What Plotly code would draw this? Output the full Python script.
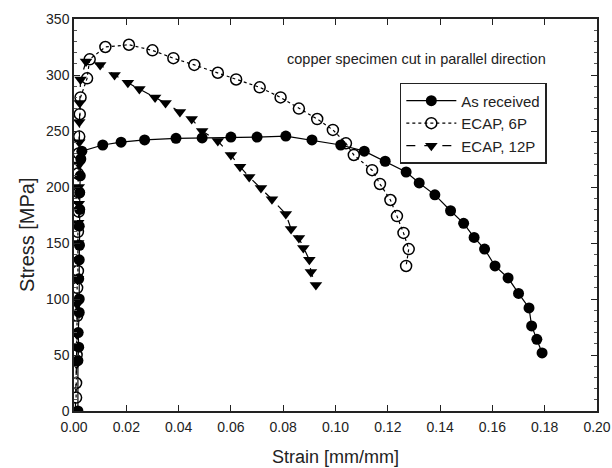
import plotly.graph_objects as go

# As received (filled circles, solid line)
ar_strain = [0.0015, 0.0015, 0.0018, 0.0016, 0.0020, 0.0020, 0.0018, 0.0020, 0.0021, 0.0020, 0.0022, 0.0022, 0.0024, 0.0026,
             0.003, 0.011, 0.018, 0.027, 0.039, 0.049, 0.060, 0.070, 0.081, 0.091, 0.102, 0.111, 0.119, 0.127,
             0.132, 0.138, 0.144, 0.149, 0.153, 0.157, 0.161, 0.166, 0.170, 0.174, 0.175, 0.177, 0.179]
ar_stress = [0, 45, 57, 70, 88, 100, 118, 135, 148, 165, 180, 195, 210, 225,
             232, 237.5, 240, 242, 243.5, 243.8, 244.6, 244.6, 245.5, 242, 237.5, 232, 223, 213.4,
             203.6, 193, 178.8, 167.6, 155, 144.6, 129.5, 118.8, 105, 92, 76, 64, 51.8]

# ECAP, 6P (open circles, dotted line)
e6_strain = [0.0008, 0.0008, 0.001, 0.0012, 0.0012, 0.0015, 0.0015, 0.0018, 0.0018, 0.0015, 0.0018, 0.002, 0.0022, 0.0025, 0.005,
             0.006, 0.012, 0.021, 0.030, 0.038, 0.046, 0.055, 0.062, 0.071, 0.079, 0.086, 0.093, 0.099, 0.104,
             0.107, 0.114, 0.117, 0.121, 0.1235, 0.126, 0.128, 0.127]
e6_stress = [12, 25, 50, 85, 110, 125, 160, 178, 195, 212, 230, 245, 265, 280, 297,
             314, 325, 327, 322, 315, 309, 302, 296, 289, 280, 270, 260.7, 251, 239,
             228.6, 215, 202.7, 188.4, 174, 159, 144.6, 129.5]

# ECAP, 12P (filled down-triangles, dashed line)
e12_strain = [0.0005, 0.001, 0.0012, 0.0012, 0.0015, 0.0015, 0.0016, 0.0016, 0.0018, 0.0018, 0.002, 0.002, 0.002, 0.0022, 0.0025,
              0.0046, 0.010, 0.0155, 0.0206, 0.025, 0.031, 0.035, 0.0405, 0.045, 0.049, 0.055, 0.060, 0.0635,
              0.067, 0.0715, 0.0757, 0.081, 0.083, 0.086, 0.0877, 0.090, 0.0906, 0.0925]
e12_stress = [0, 42, 68, 95, 118, 135, 150, 168, 185, 200, 220, 240, 258, 275, 296,
              312, 309, 300, 293, 287.5, 280, 275, 267, 260.7, 250, 241, 228.6, 218,
              209, 199, 189, 176, 162.5, 154.5, 145.5, 135, 124, 112.5]

x_ticks = [0.00, 0.02, 0.04, 0.06, 0.08, 0.10, 0.12, 0.14, 0.16, 0.18, 0.20]
y_ticks = [0, 50, 100, 150, 200, 250, 300, 350]

FONT = "Liberation Sans, Arial, sans-serif"
INK = "#222"

fig = go.Figure()
fig.add_trace(go.Scatter(x=ar_strain, y=ar_stress, mode="lines+markers", name="As received",
                         line=dict(color="black", width=1.2, dash="solid"),
                         marker=dict(symbol="circle", size=11, color="black")))
fig.add_trace(go.Scatter(x=e6_strain, y=e6_stress, mode="lines+markers", name="ECAP, 6P",
                         line=dict(color="black", width=1.2, dash="dot"),
                         marker=dict(symbol="circle-open", size=11, color="black", line=dict(width=1.5))))
fig.add_trace(go.Scatter(x=e12_strain, y=e12_stress, mode="lines+markers", name="ECAP, 12P",
                         line=dict(color="black", width=1.2, dash="dash"),
                         marker=dict(symbol="triangle-down", size=11, color="black")))

fig.add_annotation(x=0.655, y=0.898, xref="paper", yref="paper",
                   text="copper specimen cut in parallel direction", showarrow=False,
                   font=dict(family=FONT, size=14.5, color=INK), xanchor="center", yanchor="middle")
fig.add_annotation(x=-0.09, y=0.449, xref="paper", yref="paper",
                   text="Stress [MPa]", showarrow=False, textangle=-90,
                   font=dict(family=FONT, size=20, color=INK), xanchor="center", yanchor="middle")
fig.add_annotation(x=0.5, y=-0.117, xref="paper", yref="paper",
                   text="Strain [mm/mm]", showarrow=False,
                   font=dict(family=FONT, size=18, color=INK), xanchor="center", yanchor="middle")

fig.update_layout(
    width=612, height=468,
    margin=dict(l=74, r=15, t=19, b=57),
    paper_bgcolor="white", plot_bgcolor="white",
    font=dict(family=FONT, size=14, color=INK),
    showlegend=True,
    legend=dict(x=0.623, y=0.837, xanchor="left", yanchor="top",
                bordercolor=INK, borderwidth=1.5, bgcolor="white",
                font=dict(family=FONT, size=15, color=INK),
                tracegroupgap=0, itemwidth=50),
)
fig.update_xaxes(range=[0, 0.20], tickvals=x_ticks, tickformat=".2f",
                 showline=True, linecolor=INK, linewidth=1.5, mirror="ticks",
                 ticks="inside", ticklen=6, tickcolor=INK, showgrid=False, zeroline=False,
                 ticklabelstandoff=2, automargin=False, ticklabeloverflow="allow")
fig.update_yaxes(range=[0, 350], tickvals=y_ticks,
                 showline=True, linecolor=INK, linewidth=1.5, mirror="ticks",
                 ticks="inside", ticklen=6, tickcolor=INK, showgrid=False, zeroline=False,
                 automargin=False,
                 minor=dict(dtick=10, ticks="inside", ticklen=3, tickcolor="#555", showgrid=False))

fig.write_html("out.html", config={"displayModeBar": False},
               post_script="document.body.style.margin='0';document.body.style.overflow='hidden';")
